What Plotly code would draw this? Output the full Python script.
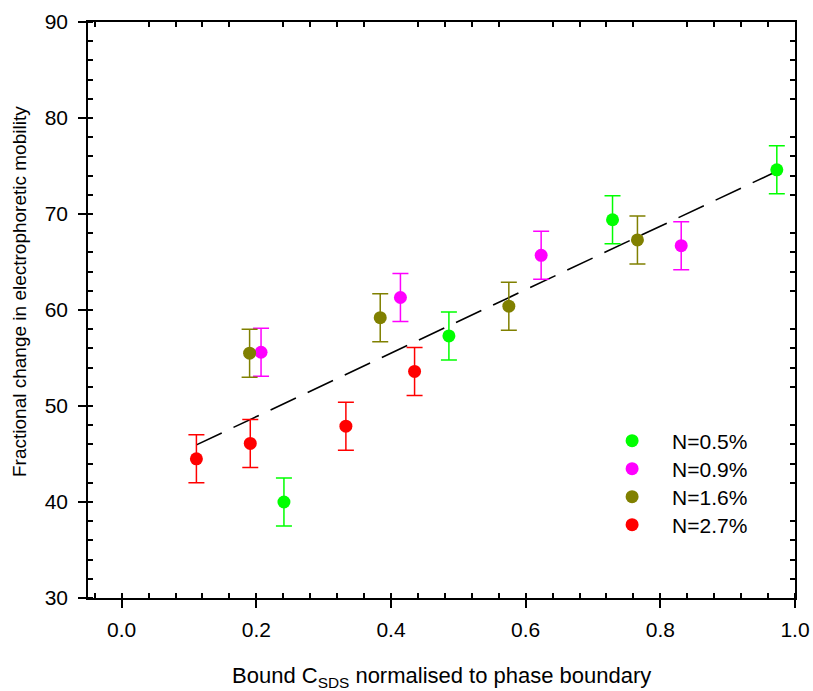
import plotly.graph_objects as go

# Measured series: x = bound C_SDS normalised to phase boundary, y = fractional change (%)
series_names = ["N=0.5%", "N=0.9%", "N=1.6%", "N=2.7%"]
series_colors = ["#00FF00", "#FF00FF", "#808000", "#FF0000"]

x_n05 = [0.241, 0.486, 0.729, 0.973]
y_n05 = [40.0, 57.3, 69.4, 74.6]

x_n09 = [0.207, 0.414, 0.623, 0.831]
y_n09 = [55.6, 61.3, 65.7, 66.7]

x_n16 = [0.190, 0.384, 0.575, 0.766]
y_n16 = [55.5, 59.2, 60.4, 67.3]

x_n27 = [0.111, 0.191, 0.333, 0.435]
y_n27 = [44.5, 46.1, 47.9, 53.6]

y_error = 2.5

# Linear fit through all points (end points of the fitted line)
fit_x = [0.111, 0.973]
fit_y = [45.95, 74.45]

xs = [x_n05, x_n09, x_n16, x_n27]
ys = [y_n05, y_n09, y_n16, y_n27]

FONT = "Liberation Sans, Arial, sans-serif"
LEG_FONT = 21
TICK_FONT = 21

fig = go.Figure()

fig.add_trace(go.Scatter(
    x=fit_x, y=fit_y, mode="lines",
    line=dict(color="black", width=1.6, dash="28px,13px"),
    showlegend=False, hoverinfo="skip",
))

legend_ids = ["legend", "legend2", "legend3", "legend4"]
for name, color, xv, yv, lg in zip(series_names, series_colors, xs, ys, legend_ids):
    fig.add_trace(go.Scatter(
        x=xv, y=yv, mode="markers", name=name, legend=lg,
        marker=dict(color=color, size=13, line=dict(width=0)),
        error_y=dict(type="constant", value=y_error, color=color,
                     thickness=1.5, width=8),
    ))

# invisible trace carrying the top/right frame axes
fig.add_trace(go.Scatter(x=[None], y=[None], xaxis="x2", yaxis="y2",
                         showlegend=False, hoverinfo="skip"))

tick_font = dict(family=FONT, size=TICK_FONT, color="black")

# one legend box per entry so the rows can be spaced freely
legend_rows_y = [0.2726, 0.224, 0.1753, 0.1267]
legends = {}
for lg, ly in zip(legend_ids, legend_rows_y):
    legends[lg] = dict(
        x=0.713, y=ly, xanchor="left", yanchor="middle",
        bgcolor="rgba(0,0,0,0)", borderwidth=0,
        font=dict(family=FONT, size=LEG_FONT, color="black"),
        itemwidth=70,
    )

fig.update_layout(
    width=813, height=691,
    margin=dict(l=88, r=18, t=22, b=93, autoexpand=False),
    paper_bgcolor="white", plot_bgcolor="white",
    font=dict(family=FONT, size=18, color="black"),
    xaxis=dict(
        range=[-0.05, 1.0], dtick=0.2, tick0=0, tickformat=".1f",
        ticks="outside", ticklen=8, tickwidth=1.5, tickcolor="black",
        minor=dict(dtick=0.04, tick0=0, ticks="inside", ticklen=5,
                   tickwidth=1.5, tickcolor="black"),
        showline=True, linecolor="black", linewidth=1.5,
        showgrid=False, zeroline=False, tickfont=tick_font,
        ticklabelstandoff=4, automargin=False,
    ),
    yaxis=dict(
        range=[30, 90], dtick=10, tick0=0,
        ticks="outside", ticklen=8, tickwidth=1.5, tickcolor="black",
        minor=dict(dtick=2, tick0=0, ticks="inside", ticklen=5,
                   tickwidth=1.5, tickcolor="black"),
        showline=True, linecolor="black", linewidth=1.5,
        showgrid=False, zeroline=False, tickfont=tick_font,
        ticklabelstandoff=6, automargin=False,
    ),
    xaxis2=dict(
        overlaying="x", side="top", range=[-0.05, 1.0],
        dtick=0.2, tick0=0, ticks="", showticklabels=False,
        minor=dict(dtick=0.04, tick0=0, ticks="inside", ticklen=5,
                   tickwidth=1.5, tickcolor="black"),
        showline=True, linecolor="black", linewidth=1.5,
        showgrid=False, zeroline=False, automargin=False,
    ),
    yaxis2=dict(
        overlaying="y", side="right", range=[30, 90],
        dtick=10, tick0=0, ticks="", showticklabels=False,
        minor=dict(dtick=2, tick0=0, ticks="inside", ticklen=5,
                   tickwidth=1.5, tickcolor="black"),
        showline=True, linecolor="black", linewidth=1.5,
        showgrid=False, zeroline=False, automargin=False,
    ),
    annotations=[
        dict(
            text="Fractional change in electrophoretic mobility",
            xref="paper", yref="paper", x=-0.097, y=0.532,
            xanchor="center", yanchor="middle", textangle=-90,
            showarrow=False, font=dict(family=FONT, size=19),
        ),
        dict(
            text="Bound C<sub>SDS</sub> normalised to phase boundary",
            xref="paper", yref="paper", x=0.5, y=-0.138,
            xanchor="center", yanchor="middle",
            showarrow=False, font=dict(family=FONT, size=22),
        ),
    ],
    **legends,
)

fig.write_html("out.html")
